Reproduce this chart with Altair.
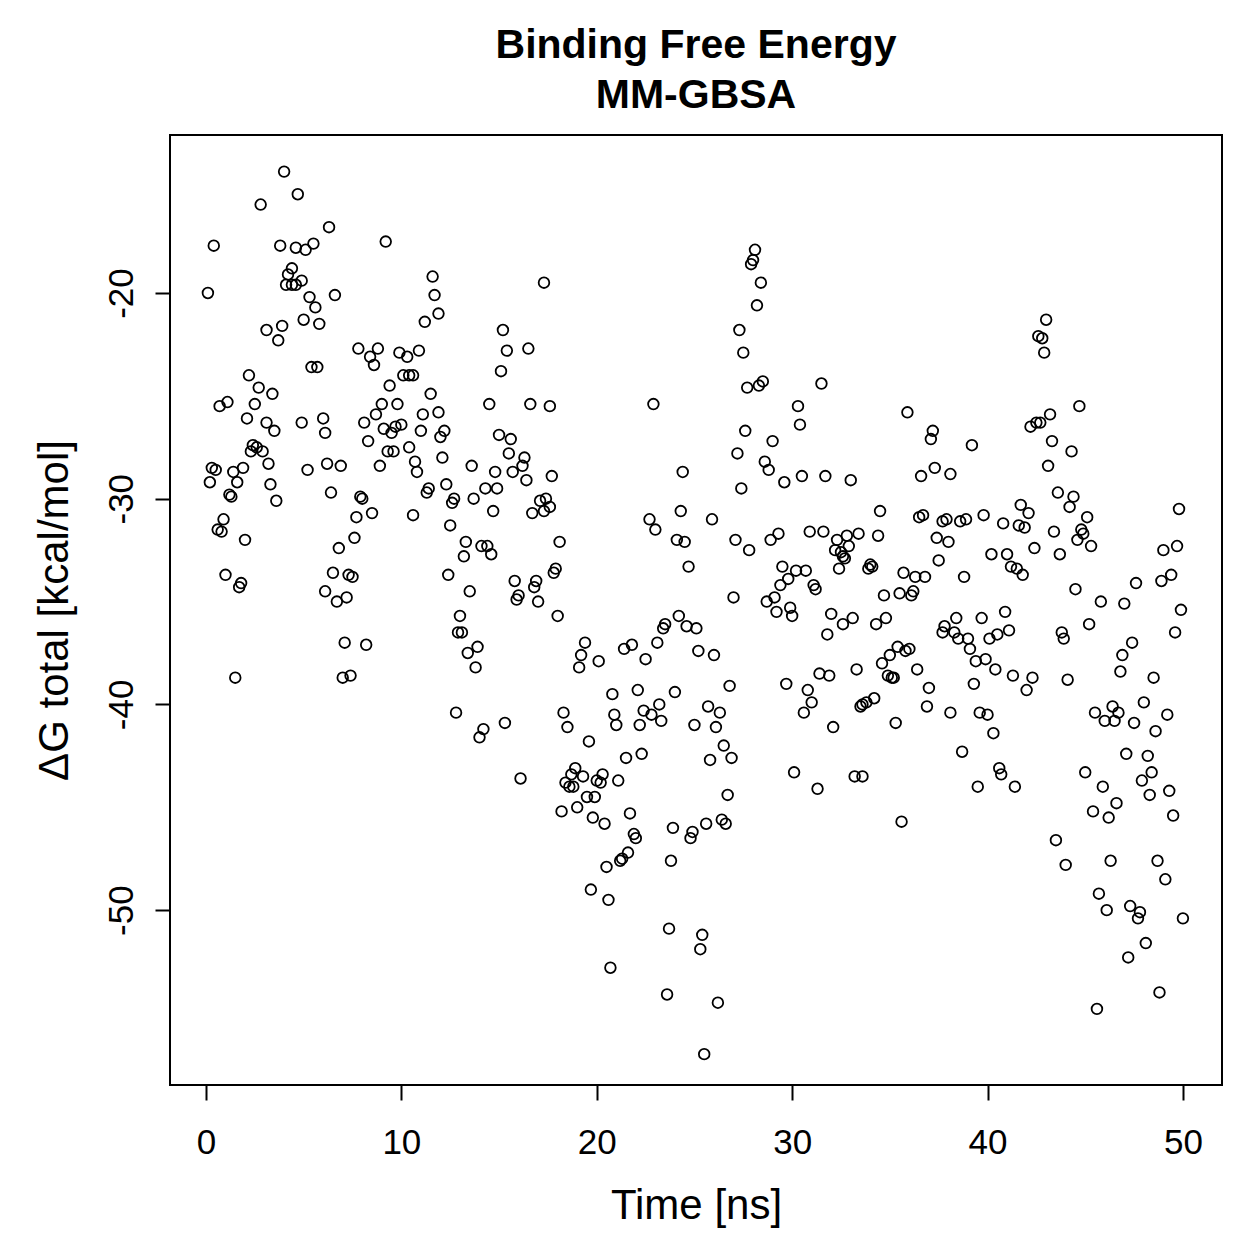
import altair as alt
import pandas as pd

# Binding free energy (MM-GBSA) per frame: time in ns, total dG in kcal/mol.
# Values are grouped in blocks by time window.
time_a = [4.0, 4.7, 2.8, 6.3, 9.2, 0.4, 3.8, 4.6, 5.1, 5.5, 4.4, 4.2, 4.1, 4.4, 4.6, 4.9, 0.1, 5.3, 5.6, 6.6,
          5.0, 5.8, 3.9, 3.1, 3.7, 11.6, 11.7, 11.9, 11.2, 7.8, 8.8, 8.4, 8.6, 9.9, 10.3, 10.9, 10.1, 10.4, 10.6, 5.4,
          5.7, 2.2, 2.7, 3.4, 0.7, 1.1, 2.5, 2.1, 3.1, 3.5, 4.9, 6.0, 6.1, 9.4, 11.5, 9.0, 9.8, 8.7, 8.1, 9.1,
          9.5, 9.7, 10.0, 11.1, 11.9, 11.0, 12.0, 12.2, 8.3, 2.4, 2.6, 2.3, 2.9, 9.3, 9.6, 10.4, 12.1]
dg_a = [-14.1, -15.2, -15.7, -16.8, -17.5, -17.7, -17.7, -17.8, -17.9, -17.6, -18.8, -19.1, -19.6, -19.6, -19.6, -19.4, -20.0, -20.2, -20.7, -20.1,
        -21.3, -21.5, -21.6, -21.8, -22.3, -19.2, -20.1, -21.0, -21.4, -22.7, -22.7, -23.1, -23.5, -22.9, -23.1, -22.8, -24.0, -24.0, -24.0, -23.6,
        -23.6, -24.0, -24.6, -24.9, -25.5, -25.3, -25.4, -26.1, -26.3, -26.7, -26.3, -26.1, -26.8, -24.5, -24.9, -25.4, -25.4, -25.9, -26.3, -26.6,
        -26.8, -26.5, -26.4, -25.9, -25.8, -26.7, -27.0, -26.7, -27.2, -27.4, -27.5, -27.7, -27.7, -27.7, -27.7, -27.5, -28.0]

time_b = [0.3, 0.5, 0.2, 1.4, 1.9, 1.6, 3.2, 3.3, 3.6, 1.2, 1.3, 5.2, 6.2, 6.9, 6.4, 7.9, 8.0, 8.9, 10.7, 10.8,
          11.3, 11.4, 8.5, 7.7, 10.6, 0.9, 0.6, 0.8, 2.0, 7.6, 6.8, 1.0, 1.8, 1.7, 6.5, 7.3, 7.5, 6.1, 6.7, 7.2,
          7.1, 8.2, 1.5, 7.0, 7.4]
dg_b = [-28.5, -28.6, -29.2, -28.7, -28.5, -29.2, -28.3, -29.3, -30.1, -29.8, -29.9, -28.6, -28.3, -28.4, -29.7, -29.9, -30.0, -28.4, -28.2, -28.7,
        -29.7, -29.5, -30.7, -30.9, -30.8, -31.0, -31.5, -31.6, -32.0, -31.9, -32.4, -33.7, -34.1, -34.3, -33.6, -33.7, -33.8, -34.5, -35.0, -34.8,
        -37.0, -37.1, -38.7, -38.7, -38.6]

time_c = [17.3, 15.2, 15.4, 16.5, 15.1, 14.5, 16.6, 17.6, 22.9, 15.0, 15.6, 13.6, 15.5, 16.3, 16.2, 15.7, 14.8, 16.4, 17.7, 14.3,
          14.9, 13.7, 12.7, 12.6, 14.7, 17.1, 17.4, 17.6, 17.3, 16.7, 12.5, 13.3, 13.2, 14.1, 14.4, 14.6, 18.1, 12.4, 13.5, 15.8,
          16.0, 15.9, 16.9, 16.8, 17.0, 17.9, 17.8, 18.0, 13.0, 12.9, 13.1, 13.9, 13.4, 13.8, 24.4, 22.7, 23.0, 24.3, 24.1, 24.5,
          24.7, 24.2, 24.6, 25.1, 23.5, 23.4, 23.1, 25.2, 19.4, 19.2, 19.1, 20.1, 21.4, 21.8, 22.5, 12.8, 14.2, 14.0, 15.3, 18.3,
          18.5, 19.6, 20.8, 20.9, 21.0, 22.1, 22.4, 22.2, 22.8, 23.2, 23.3, 24.0, 25.0, 21.5, 22.3, 12.3]
dg_c = [-19.5, -21.8, -22.8, -22.7, -23.8, -25.4, -25.4, -25.5, -25.4, -26.9, -27.1, -28.4, -27.8, -28.0, -28.4, -28.7, -28.7, -29.1, -28.9, -29.5,
        -29.5, -30.0, -30.0, -30.2, -30.6, -30.1, -30.0, -30.4, -30.6, -30.7, -31.3, -32.1, -32.8, -32.3, -32.3, -32.7, -32.1, -33.7, -34.5, -34.0,
        -34.7, -34.9, -34.0, -34.3, -35.0, -33.4, -33.6, -35.7, -35.7, -36.5, -36.5, -37.2, -37.5, -38.2, -28.7, -31.0, -31.5, -30.6, -32.0, -32.1,
        -33.3, -35.7, -36.2, -36.3, -36.1, -36.3, -37.0, -37.4, -37.0, -37.6, -38.2, -37.9, -37.3, -37.1, -37.8, -40.4, -41.2, -41.6, -40.9, -40.4,
        -41.1, -41.8, -39.5, -40.5, -41.0, -39.3, -40.3, -41.0, -40.5, -40.0, -40.8, -39.4, -41.0, -42.6, -42.4, -29.3]

time_d = [16.1, 18.9, 18.7, 18.4, 18.6, 18.8, 19.3, 19.5, 19.9, 20.0, 20.3, 20.2, 21.1, 18.2, 19.0, 19.8, 20.4, 21.7, 21.9, 22.0,
          21.6, 21.3, 21.2, 20.5, 19.7, 20.6, 23.9, 23.8, 24.9, 24.8, 23.7, 25.4, 25.3, 20.7, 23.6, 25.5]
dg_d = [-43.6, -43.1, -43.4, -43.8, -44.0, -44.0, -43.5, -44.5, -44.5, -43.7, -43.4, -43.8, -43.7, -45.2, -45.0, -45.5, -45.8, -45.3, -46.3, -46.5,
        -47.2, -47.5, -47.6, -47.9, -49.0, -49.5, -46.0, -47.6, -46.2, -46.5, -50.9, -51.2, -51.9, -52.8, -54.1, -57.0]

time_e = [28.1, 28.0, 27.9, 28.4, 28.2, 27.3, 27.5, 27.7, 28.3, 28.5, 31.5, 30.3, 30.4, 35.9, 37.2, 37.1, 27.6, 29.0, 27.2, 28.6,
          28.8, 29.6, 30.5, 31.7, 33.0, 27.4, 37.3, 36.6, 38.1, 25.9, 27.1, 27.8, 28.9, 29.3, 30.9, 31.6, 32.3, 32.8, 33.4, 32.9,
          32.2, 32.5, 32.6, 32.7, 32.4, 34.4, 34.5, 34.0, 34.1, 33.9, 36.5, 36.7, 37.7, 37.9, 37.4, 38.0, 37.5, 29.5, 30.2, 30.7,
          29.8, 29.4, 31.1, 31.2, 29.1, 28.7, 29.2, 29.9, 30.0, 27.0, 32.0, 32.6, 33.1, 31.8, 34.3, 34.8, 35.7, 36.3, 36.8, 34.7,
          35.5, 36.1, 36.2, 37.8, 37.7, 26.0, 26.8, 25.7, 26.3, 26.1, 26.5, 25.8, 26.9, 29.7, 30.8, 31.0, 30.6, 31.4, 31.9, 33.3,
          32.1, 34.6, 35.0, 35.4, 35.8, 36.0, 34.9, 35.1, 35.2, 36.4, 37.0, 36.9, 34.2, 33.8, 33.6, 33.5, 35.3, 38.1, 30.1, 31.3,
          33.2, 33.6, 26.7, 25.6, 26.4, 26.6, 35.6, 26.2]
dg_e = [-17.9, -18.4, -18.6, -19.5, -20.6, -21.8, -22.9, -24.6, -24.5, -24.3, -24.4, -25.5, -26.4, -25.8, -26.7, -27.1, -26.7, -27.2, -27.8, -28.2,
        -28.6, -29.2, -28.9, -28.9, -29.1, -29.5, -28.5, -28.9, -28.8, -31.0, -32.0, -32.5, -32.0, -31.7, -31.6, -31.6, -32.0, -31.8, -31.7, -32.3,
        -32.5, -32.6, -32.8, -32.9, -33.4, -31.8, -30.6, -33.2, -33.3, -33.4, -30.9, -30.8, -31.1, -31.0, -31.9, -32.1, -33.0, -33.3, -33.5, -33.5,
        -33.9, -34.2, -34.2, -34.4, -34.8, -35.0, -35.5, -35.3, -35.7, -34.8, -35.6, -36.1, -35.8, -36.6, -36.1, -35.8, -33.6, -33.8, -33.8, -34.7,
        -34.6, -34.7, -34.5, -36.2, -36.5, -37.6, -39.1, -40.1, -40.4, -41.1, -42.0, -42.7, -42.6, -39.0, -39.3, -39.9, -40.4, -38.5, -38.6, -38.3,
        -41.1, -38.0, -37.6, -37.2, -37.4, -37.3, -38.6, -38.7, -38.7, -38.3, -39.2, -40.1, -39.7, -39.9, -40.0, -40.1, -40.9, -40.4, -43.3, -44.1,
        -43.5, -43.5, -44.4, -45.8, -45.6, -45.8, -45.7, -54.5]

time_f = [43.0, 42.6, 42.8, 42.9, 44.7, 43.2, 42.5, 42.7, 42.2, 39.2, 43.3, 44.3, 43.1, 43.6, 44.4, 44.2, 45.1, 49.8, 41.7, 42.1,
          39.8, 40.8, 41.6, 41.9, 38.6, 38.9, 43.4, 44.8, 44.9, 44.6, 45.3, 43.7, 42.4, 40.2, 41.0, 41.2, 41.5, 41.8, 38.8, 49.0,
          49.7, 48.9, 49.4, 47.6, 44.5, 45.8, 47.0, 49.9, 49.6, 45.2, 43.8, 43.9, 47.4, 46.9, 46.8, 48.5, 38.4, 38.3, 38.5, 39.0,
          39.7, 40.9, 41.1, 40.5, 40.1, 39.1, 39.4, 39.9, 40.4, 39.3, 41.3, 42.3, 42.0, 44.1, 39.6, 40.0, 40.3, 38.7, 45.5, 46.4,
          46.7, 46.0, 46.5, 47.5, 48.0, 49.2, 48.6, 47.1, 48.2, 40.6, 40.7, 39.5, 41.4, 45.0, 45.9, 46.6, 45.4, 46.2, 48.4, 47.9,
          49.3, 48.3, 49.5, 43.5, 44.0, 46.3, 48.7, 49.1, 45.7, 46.1, 47.3, 47.8, 47.7, 50.0, 48.1, 47.2, 48.8, 45.6]
dg_f = [-21.3, -22.1, -22.2, -22.9, -25.5, -25.9, -26.3, -26.3, -26.5, -27.4, -27.2, -27.7, -28.4, -29.7, -29.9, -30.4, -30.9, -30.5, -30.3, -30.7,
        -30.8, -31.2, -31.3, -31.4, -31.1, -31.0, -31.6, -31.5, -31.7, -32.0, -32.3, -32.7, -32.4, -32.7, -32.7, -33.3, -33.4, -33.7, -33.8, -32.5,
        -32.3, -34.0, -33.7, -34.1, -34.4, -35.0, -35.1, -35.4, -36.5, -36.1, -36.5, -36.8, -37.0, -37.6, -38.4, -38.7, -35.8, -36.5, -36.8, -36.8,
        -35.8, -35.5, -36.4, -36.6, -36.8, -37.3, -37.9, -37.8, -38.3, -39.0, -38.6, -38.7, -39.3, -38.8, -40.4, -40.5, -41.4, -42.3, -40.4, -40.1,
        -40.4, -40.8, -40.8, -40.9, -39.9, -40.5, -41.3, -42.4, -42.5, -43.1, -43.4, -44.0, -44.0, -43.3, -44.0, -44.8, -45.2, -45.5, -43.3, -43.7,
        -44.2, -44.4, -45.4, -46.6, -47.8, -47.6, -47.6, -48.5, -49.2, -50.0, -49.8, -50.1, -50.4, -50.4, -51.6, -52.3, -54.0, -54.8]

x_ticks = [0, 10, 20, 30, 40, 50]
y_ticks = [-20, -30, -40, -50]

time_ns = time_a + time_b + time_c + time_d + time_e + time_f
dg_total = dg_a + dg_b + dg_c + dg_d + dg_e + dg_f
assert len(time_ns) == len(dg_total)

df = pd.DataFrame({"time": time_ns, "dg": dg_total}).sort_values("time")

FONT = "Liberation Sans"

chart = (
    alt.Chart(df)
    .mark_point(shape="circle", filled=False, color="black", size=113, strokeWidth=1.8, opacity=1)
    .encode(
        x=alt.X(
            "time:Q",
            scale=alt.Scale(domain=[-1.84, 52.0], nice=False, zero=False),
            axis=alt.Axis(
                values=x_ticks, title="Time [ns]", grid=False, domain=False,
                tickSize=15, tickWidth=2, tickColor="black",
                labelFont=FONT, labelFontSize=35, labelColor="black",
                labelBaseline="alphabetic", labelPadding=53, labelFlush=False,
                labelOverlap=False, labelExpr="'' + datum.value",
                titleFont=FONT, titleFontSize=42, titleFontWeight="normal",
                titleColor="black", titleBaseline="alphabetic", titleY=133,
            ),
        ),
        y=alt.Y(
            "dg:Q",
            scale=alt.Scale(domain=[-58.5, -12.32], nice=False, zero=False),
            axis=alt.Axis(
                values=y_ticks, title="ΔG total [kcal/mol]", grid=False, domain=False,
                tickSize=15, tickWidth=2, tickColor="black",
                labelFont=FONT, labelFontSize=35, labelColor="black",
                labelAngle=270, labelAlign="center", labelBaseline="alphabetic",
                labelPadding=23, labelFlush=False, labelOverlap=False,
                labelExpr="'' + datum.value",
                titleFont=FONT, titleFontSize=42, titleFontWeight="normal",
                titleColor="black", titleAngle=270, titleBaseline="alphabetic", titleX=-103,
            ),
        ),
    )
    .properties(
        width=1052,
        height=950,
        title=alt.Title(
            ["Binding Free Energy", "MM-GBSA"],
            font=FONT, fontSize=41, fontWeight="bold", color="black",
            anchor="middle", frame="group", baseline="bottom",
            lineHeight=50, offset=19, dy=42,
        ),
        autosize=alt.AutoSizeParams(type="none"),
        padding={"left": 170, "top": 135, "right": 37, "bottom": 174},
        background="white",
    )
    .configure_view(stroke="black", strokeWidth=2, fill="white")
)

chart.save("out.html", embed_options={"renderer": "svg", "actions": False})
